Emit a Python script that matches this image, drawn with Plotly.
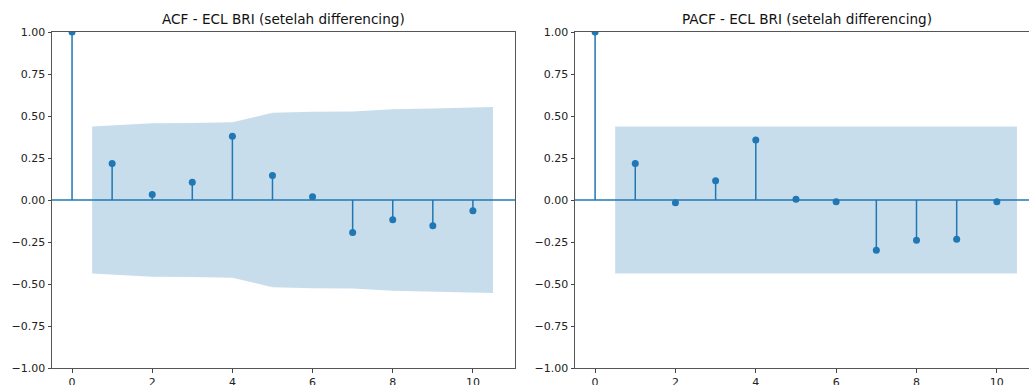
import plotly.graph_objects as go

W, H = 1029, 385

lags = [0, 1, 2, 3, 4, 5, 6, 7, 8, 9, 10]
acf_vals = [1.0, 0.218, 0.032, 0.106, 0.379, 0.146, 0.020, -0.194, -0.118, -0.154, -0.064]
pacf_vals = [1.0, 0.218, -0.016, 0.114, 0.357, 0.004, -0.010, -0.299, -0.240, -0.234, -0.010]

band_x = [0.5, 2, 3, 4, 5, 6, 7, 8, 9, 10.5]
acf_band = [0.437, 0.457, 0.458, 0.463, 0.519, 0.526, 0.527, 0.540, 0.545, 0.553]
pacf_band = [0.437] * 10

titles = ["ACF - ECL BRI (setelah differencing)", "PACF - ECL BRI (setelah differencing)"]
x_ticks = [0, 2, 4, 6, 8, 10]
y_ticks = [-1.0, -0.75, -0.5, -0.25, 0.0, 0.25, 0.5, 0.75, 1.0]
y_ticktext = [("−" if v < 0 else "") + f"{abs(v):.2f}" for v in y_ticks]

BLUE = "#1f77b4"
FONT = "DejaVu Sans"

fig = go.Figure()

def add_panel(vals, band, xa, ya):
    # confidence band
    fig.add_trace(go.Scatter(
        x=band_x + band_x[::-1],
        y=band + [-b for b in band[::-1]],
        fill="toself", fillcolor="rgba(31,119,180,0.25)",
        line=dict(width=0), mode="lines", hoverinfo="skip",
        xaxis=xa, yaxis=ya, showlegend=False))
    # stems
    sx, sy = [], []
    for k, v in zip(lags, vals):
        sx += [k, k, None]
        sy += [0, v, None]
    fig.add_trace(go.Scatter(x=sx, y=sy, mode="lines",
                             line=dict(color=BLUE, width=1.5),
                             xaxis=xa, yaxis=ya, showlegend=False))
    # markers
    fig.add_trace(go.Scatter(x=lags, y=vals, mode="markers",
                             marker=dict(color=BLUE, size=7),
                             xaxis=xa, yaxis=ya, showlegend=False))

add_panel(acf_vals, acf_band, "x", "y")
add_panel(pacf_vals, pacf_band, "x2", "y2")

ydom = [1 - 368 / H, 1 - 32 / H]
axis_common = dict(showgrid=False, zeroline=False, ticks="outside", ticklen=3.5,
                   tickwidth=1, tickcolor="#444", showline=True, linecolor="#555",
                   linewidth=1, automargin=False,
                   tickfont=dict(family=FONT, size=11, color="#222"))

fig.update_layout(
    width=W, height=H, margin=dict(l=0, r=0, t=0, b=0),
    plot_bgcolor="white", paper_bgcolor="white", showlegend=False,
    xaxis=dict(domain=[52 / W, 515 / W], range=[-0.5, 11.05], tickvals=x_ticks,
               mirror=True, anchor="y", **axis_common),
    yaxis=dict(domain=ydom, range=[-1, 1], tickvals=y_ticks, ticktext=y_ticktext,
               mirror=True, anchor="x", **axis_common),
    xaxis2=dict(domain=[575 / W, 1.0], range=[-0.5, 10.8], tickvals=x_ticks,
                mirror=True, anchor="y2", **axis_common),
    yaxis2=dict(domain=ydom, range=[-1, 1], tickvals=y_ticks, ticktext=y_ticktext,
                mirror=False, anchor="x2", **axis_common),
)

# zero lines
for xr, yr in [("x domain", "y"), ("x2 domain", "y2")]:
    fig.add_shape(type="line", xref=xr, yref=yr, x0=0, x1=1, y0=0, y1=0,
                  line=dict(color=BLUE, width=1.5), layer="above")

# titles
for t, cx in zip(titles, [283.5, 807]):
    fig.add_annotation(text=t, x=cx / W, y=1 - 19 / H, xref="paper", yref="paper",
                       xanchor="center", yanchor="middle", showarrow=False,
                       font=dict(family=FONT, size=13.6, color="#111"))

fig.write_html("out.html", config={"displayModeBar": False},
               post_script="document.body.style.margin='0';document.body.style.overflow='hidden';")
